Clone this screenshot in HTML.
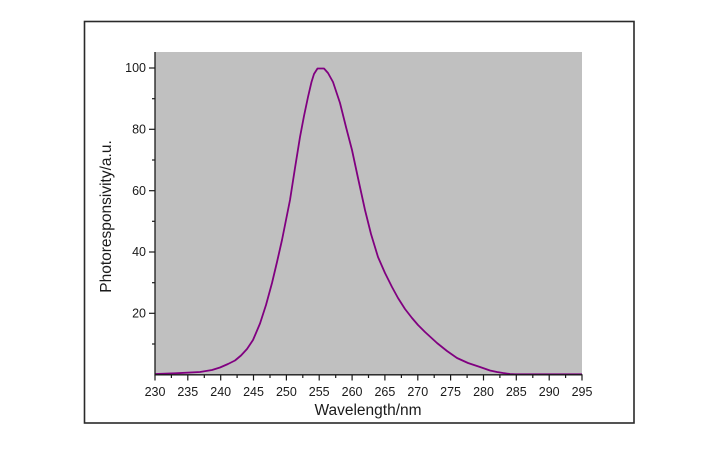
<!DOCTYPE html>
<html>
<head>
<meta charset="utf-8">
<style>
html,body{margin:0;padding:0;background:#fff;}
svg{display:block;}
text{font-family:"Liberation Sans",Arial,sans-serif;fill:#1a1a1a;}
</style>
</head>
<body>
<svg width="726" height="450" viewBox="0 0 726 450" xmlns="http://www.w3.org/2000/svg">
  <rect x="0" y="0" width="726" height="450" fill="#fff"/>
  <!-- outer frame -->
  <rect x="84.5" y="21.5" width="549.5" height="401.5" fill="none" stroke="#2a2a2a" stroke-width="1.6"/>
  <!-- plot area -->
  <rect x="155" y="52" width="427" height="322.5" fill="#c0c0c0"/>
  <!-- curve -->
  <polyline fill="none" stroke="#800080" stroke-width="1.8" stroke-linejoin="round"
    points="155,374 175,373.3 200,372 212,370 220,367.5 228,364 235,360.5 241,355.5 247,349 253,340 260,323.5 266,305 272,283 277,262 282,240 286,220 290,200 295,168 300,137 304,116 308,97 311.5,82 314,74 317.5,68.5 324,68.5 328,73 333,82 337,94 340,103 346,127 352,150 358,178 365,210 371,234 378,257 385,273 392,287 398,298 405,309 412,318 418,325 425,332 437,343 447,351 457,358 468,363 480,367 490,370.5 497,372 503,373 510,374 515,374.3 582,374.3"/>
  <!-- axes -->
  <line x1="155" y1="52" x2="155" y2="375.5" stroke="#1a1a1a" stroke-width="1.3"/>
  <line x1="154.5" y1="374.8" x2="582.5" y2="374.8" stroke="#1a1a1a" stroke-width="1.3"/>
  <!-- y ticks -->
  <g stroke="#1a1a1a" stroke-width="1.2">
    <line x1="149" y1="313.3" x2="155" y2="313.3"/>
    <line x1="149" y1="252" x2="155" y2="252"/>
    <line x1="149" y1="190.7" x2="155" y2="190.7"/>
    <line x1="149" y1="129.3" x2="155" y2="129.3"/>
    <line x1="149" y1="68" x2="155" y2="68"/>
    <line x1="152" y1="344" x2="155" y2="344"/>
    <line x1="152" y1="282.7" x2="155" y2="282.7"/>
    <line x1="152" y1="221.3" x2="155" y2="221.3"/>
    <line x1="152" y1="160" x2="155" y2="160"/>
    <line x1="152" y1="98.7" x2="155" y2="98.7"/>
  </g>
  <g font-size="12.5" text-anchor="end">
    <text x="146" y="317.5">20</text>
    <text x="146" y="256.2">40</text>
    <text x="146" y="194.9">60</text>
    <text x="146" y="133.5">80</text>
    <text x="146" y="72.2">100</text>
  </g>
  <!-- x ticks -->
  <g stroke="#1a1a1a" stroke-width="1.2">
    <line x1="155" y1="375" x2="155" y2="380.5"/>
    <line x1="187.8" y1="375" x2="187.8" y2="380.5"/>
    <line x1="220.7" y1="375" x2="220.7" y2="380.5"/>
    <line x1="253.5" y1="375" x2="253.5" y2="380.5"/>
    <line x1="286.4" y1="375" x2="286.4" y2="380.5"/>
    <line x1="319.2" y1="375" x2="319.2" y2="380.5"/>
    <line x1="352.1" y1="375" x2="352.1" y2="380.5"/>
    <line x1="384.9" y1="375" x2="384.9" y2="380.5"/>
    <line x1="417.8" y1="375" x2="417.8" y2="380.5"/>
    <line x1="450.6" y1="375" x2="450.6" y2="380.5"/>
    <line x1="483.5" y1="375" x2="483.5" y2="380.5"/>
    <line x1="516.3" y1="375" x2="516.3" y2="380.5"/>
    <line x1="549.2" y1="375" x2="549.2" y2="380.5"/>
    <line x1="582" y1="375" x2="582" y2="380.5"/>
    <line x1="171.4" y1="375" x2="171.4" y2="378"/>
    <line x1="204.3" y1="375" x2="204.3" y2="378"/>
    <line x1="237.1" y1="375" x2="237.1" y2="378"/>
    <line x1="270" y1="375" x2="270" y2="378"/>
    <line x1="302.8" y1="375" x2="302.8" y2="378"/>
    <line x1="335.7" y1="375" x2="335.7" y2="378"/>
    <line x1="368.5" y1="375" x2="368.5" y2="378"/>
    <line x1="401.4" y1="375" x2="401.4" y2="378"/>
    <line x1="434.2" y1="375" x2="434.2" y2="378"/>
    <line x1="467.1" y1="375" x2="467.1" y2="378"/>
    <line x1="499.9" y1="375" x2="499.9" y2="378"/>
    <line x1="532.8" y1="375" x2="532.8" y2="378"/>
    <line x1="565.6" y1="375" x2="565.6" y2="378"/>
  </g>
  <g font-size="12.5" text-anchor="middle">
    <text x="155" y="396">230</text>
    <text x="187.8" y="396">235</text>
    <text x="220.7" y="396">240</text>
    <text x="253.5" y="396">245</text>
    <text x="286.4" y="396">250</text>
    <text x="319.2" y="396">255</text>
    <text x="352.1" y="396">260</text>
    <text x="384.9" y="396">265</text>
    <text x="417.8" y="396">270</text>
    <text x="450.6" y="396">275</text>
    <text x="483.5" y="396">280</text>
    <text x="516.3" y="396">285</text>
    <text x="549.2" y="396">290</text>
    <text x="582" y="396">295</text>
  </g>
  <!-- axis titles -->
  <text x="368" y="415" font-size="15.5" text-anchor="middle">Wavelength/nm</text>
  <text x="0" y="0" font-size="15.5" text-anchor="middle" transform="translate(111,216.5) rotate(-90)">Photoresponsivity/a.u.</text>
</svg>
</body>
</html>
